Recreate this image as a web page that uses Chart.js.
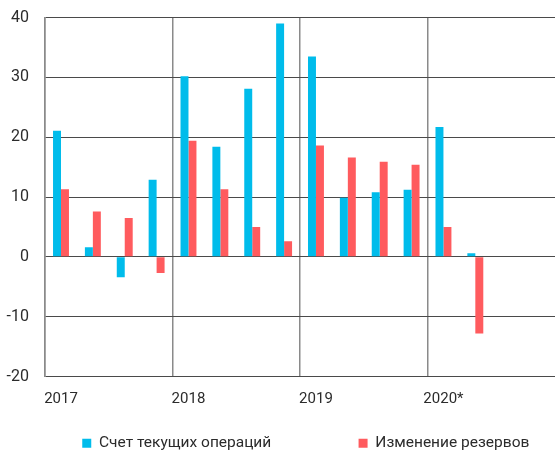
<!DOCTYPE html>
<html>
<head>
<meta charset="utf-8">
<script src="https://cdn.jsdelivr.net/npm/chart.js@4/dist/chart.umd.min.js"></script>
<style>
html,body{margin:0;padding:0;background:#fff;}
#wrap{width:555px;height:454px;position:relative;}
</style>
</head>
<body>
<div id="wrap"><canvas id="c" width="555" height="454"></canvas></div>
<script>
const quarters = ['2017 I','2017 II','2017 III','2017 IV','2018 I','2018 II','2018 III','2018 IV','2019 I','2019 II','2019 III','2019 IV','2020 I','2020 II','2020 III','2020 IV'];
const yearLabels = ['2017','2018','2019','2020*'];
const currentAccount = [21.1, 1.6, -3.4, 12.9, 30.2, 18.4, 28.1, 39.0, 33.5, 9.9, 10.8, 11.2, 21.7, 0.6, null, null];
const reserveChange = [11.3, 7.6, 6.5, -2.7, 19.4, 11.3, 5.0, 2.6, 18.6, 16.6, 15.9, 15.4, 5.0, -12.8, null, null];
const seriesNames = ['Счет текущих операций', 'Изменение резервов'];
const yTicks = [-20, -10, 0, 10, 20, 30, 40];

const FONT = 'Roboto';
const TXT = '#2b2b2b';

new Chart(document.getElementById('c'), {
  type: 'bar',
  data: {
    labels: quarters,
    datasets: [
      {label: seriesNames[0] + '\u2003\u2003\u2003\u2003\u2002\u2009', data: currentAccount, backgroundColor: '#00BCEB', categoryPercentage: 0.5, barPercentage: 1.0},
      {label: seriesNames[1] + '\u2002\u2009\u200A', data: reserveChange, backgroundColor: '#FF5B5E', categoryPercentage: 0.5, barPercentage: 1.0}
    ]
  },
  options: {
    responsive: false,
    animation: false,
    devicePixelRatio: 1,
    layout: {padding: {left: -1.5, right: 0, top: 0, bottom: -7}},
    plugins: {
      tooltip: {enabled: false},
      legend: {
        position: 'bottom',
        align: 'end',
        labels: {
          boxWidth: 9, boxHeight: 9, padding: 13,
          color: TXT,
          font: {family: FONT, size: 15.5}
        }
      }
    },
    scales: {
      x: {
        grid: {
          offset: true,
          drawTicks: false,
          color: (ctx) => (ctx.index !== undefined && ctx.index % 4 === 0 && ctx.index < quarters.length) ? '#8a8a8a' : 'rgba(0,0,0,0)',
          lineWidth: 1.5
        },
        border: {display: false},
        ticks: {
          autoSkip: false, maxRotation: 0, minRotation: 0,
          padding: 14,
          color: TXT,
          font: {family: FONT, size: 15},
          callback: (v, i) => (i % 4 === 0) ? yearLabels[i / 4] : ''
        }
      },
      y: {
        min: yTicks[0], max: yTicks[yTicks.length - 1],
        afterBuildTicks: (axis) => { axis.ticks = yTicks.map(v => ({value: v})); },
        grid: {drawTicks: false, color: '#4a4a4a', lineWidth: 1},
        border: {display: true, color: '#8a8a8a', width: 1.5},
        ticks: {
          padding: 8,
          color: TXT,
          font: {family: FONT, size: 16},
          callback: (v) => v + '\u2002'
        }
      }
    }
  }
});
</script>
</body>
</html>
